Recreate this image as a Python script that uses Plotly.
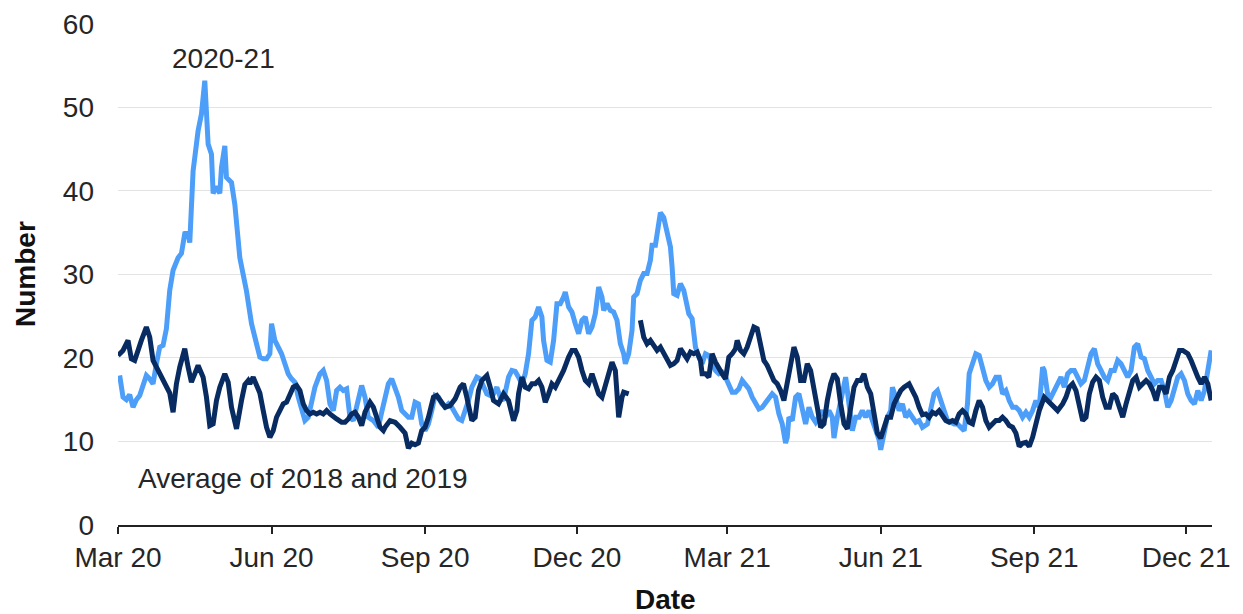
import pandas as pd
import plotly.graph_objects as go

START = pd.Timestamp("2020-03-01")

# 2020-21 series: day offsets from 1 Mar 2020 and daily counts
blue_days = [
    1, 3, 5, 7, 9, 11, 13, 15, 17, 19, 21, 23, 25, 27, 29,
    31, 33, 36, 38, 40, 42, 43, 45, 48, 50, 52,
    53, 54, 56, 57, 59, 61, 62, 64, 65, 68, 70, 71,
    73, 75, 77, 80, 83, 85, 87, 89, 91, 92, 94, 96, 98, 100,
    102, 104, 106, 108, 110, 112, 114, 116, 118, 121, 123, 125, 127, 129, 131, 133, 135, 137, 139, 141,
    144, 146, 148, 150, 153, 156, 158, 160,
    162, 164, 166, 168, 170, 172, 174, 176, 178, 180, 182, 184, 186, 188, 190, 192, 194, 196, 198, 200, 202, 204, 206, 208, 210,
    212, 215, 217, 219, 221, 223, 225, 227, 229, 231, 234, 236, 238, 240,
    242, 244, 246, 248, 250, 252, 254, 255, 257, 259, 261, 263, 265, 267, 268, 270, 272, 274, 276, 278, 280,
    282, 284, 286, 288, 290, 291, 293, 295, 297, 299, 301, 303, 304, 306,
    308, 309, 311, 313, 315, 317, 319, 320, 322, 324, 325, 327, 329, 331,
    332, 333, 335, 337, 339, 340, 342, 344, 345, 346, 348, 350, 352, 354, 356, 358, 360, 362, 364,
    366, 368, 370, 372, 374, 376, 378, 380, 382, 384, 386, 388, 390, 392, 394, 396, 398, 400, 401, 402,
    404, 406, 408, 410, 412, 414, 416, 418, 420, 422, 424, 426, 428, 429, 431, 433, 435, 436, 438, 440,
    442, 444, 446, 448, 450, 452, 454, 456,
    457, 459, 461, 463, 464, 466, 468, 470, 472, 474, 476, 478, 480, 482,
    485, 487, 489, 491, 493, 495, 497, 499, 501, 503, 505, 507, 509, 510, 512, 514, 516, 518, 520,
    522, 524, 526, 528, 530, 532, 534, 536, 538, 540, 542, 544, 546, 548, 550, 552, 554, 555,
    557, 559, 561, 563, 565, 567, 569, 571, 573, 575, 577, 579, 581, 583, 585, 587, 589, 591, 593, 595,
    597, 599, 601, 603, 605, 607, 609, 611, 613, 615, 617, 619, 621, 623, 625, 627, 629, 631, 633, 635,
    637, 639, 641, 643, 645, 647, 649, 651, 653, 655,
]
blue_vals = [
    17.9, 15.3, 15.0, 15.6, 14.1, 15.0, 15.5, 16.5, 17.9, 17.5, 16.9, 19.3, 21.3, 21.5, 23.5,
    28.1, 30.5, 32.0, 32.5, 34.9, 35.0, 33.8, 42.4, 47.2, 49.2, 53.2,
    49.0, 45.6, 44.4, 39.7, 40.5, 39.7, 42.8, 45.4, 41.6, 41.0, 38.4, 35.6,
    32.0, 30.0, 28.0, 24.1, 21.7, 20.1, 19.9, 19.9, 20.5, 24.1, 22.1, 21.3, 20.5, 19.3,
    18.1, 17.5, 17.1, 15.3, 13.7, 12.5, 12.9, 14.5, 16.5, 18.1, 18.5, 17.3, 14.5, 13.7, 16.1, 16.5, 16.1, 16.3, 12.9, 12.5,
    15.3, 16.7, 15.3, 12.9, 12.5, 11.7, 13.5, 15.3,
    16.9, 17.5, 16.5, 15.3, 13.7, 13.3, 12.9, 12.9, 14.7, 14.5, 12.1, 11.3, 12.1, 13.7, 15.5, 15.3, 14.5, 14.1, 14.5, 14.1, 13.3, 12.7, 12.5, 13.5, 14.9,
    16.5, 17.7, 17.5, 16.5, 15.7, 15.5, 15.7, 16.5, 15.3, 14.9, 17.7, 18.5, 18.4, 17.7,
    16.9, 18.1, 20.5, 24.5, 24.9, 26.1, 24.9, 22.1, 19.7, 19.5, 22.1, 26.5, 26.5, 27.3, 27.9, 26.1, 25.5, 24.1, 22.9, 24.5, 24.9,
    22.9, 23.7, 25.3, 28.5, 27.3, 25.7, 26.5, 25.7, 25.5, 24.5, 21.7, 20.5, 19.3, 20.5,
    23.3, 27.3, 27.7, 29.3, 30.1, 30.1, 31.7, 33.5, 33.5, 36.4, 37.4, 36.8, 34.9, 33.3,
    30.9, 27.7, 27.5, 28.9, 28.1, 26.9, 25.3, 24.7, 23.3, 21.3, 20.1, 19.3, 20.5, 20.3, 19.3, 18.5, 18.1, 18.3, 17.7,
    16.9, 15.9, 15.9, 16.3, 17.3, 16.9, 16.3, 15.3, 14.5, 13.9, 14.1, 14.7, 15.1, 15.7, 15.3, 13.3, 12.1, 9.8, 10.5, 12.9,
    12.5, 15.3, 15.7, 13.7, 12.1, 14.1, 12.9, 12.3, 12.9, 13.7, 12.9, 13.7, 12.9, 10.4, 12.9, 14.9, 17.3, 17.7, 14.5, 11.3,
    12.9, 12.9, 13.7, 12.9, 13.7, 12.5, 11.7, 10.2,
    9.0, 11.3, 12.9, 13.7, 16.5, 15.3, 13.7, 14.5, 12.9, 13.5, 12.9, 12.3, 12.5, 11.7,
    12.1, 13.7, 15.7, 16.1, 14.9, 13.3, 12.5, 12.3, 12.1, 12.1, 11.7, 11.3, 14.5, 18.1, 19.3, 20.5, 20.3, 18.5, 17.3,
    16.5, 16.9, 17.7, 17.7, 15.7, 16.1, 14.9, 14.1, 14.1, 13.7, 12.9, 13.5, 12.9, 13.7, 14.9, 14.1, 18.9, 18.5,
    15.7, 15.3, 16.1, 17.0, 17.7, 16.5, 18.1, 18.5, 18.5, 17.7, 16.9, 17.3, 18.9, 20.5, 21.1, 19.3, 18.5, 17.7, 17.3, 18.5,
    18.5, 19.7, 19.3, 18.5, 17.7, 18.5, 21.3, 21.7, 20.1, 19.9, 18.5, 17.7, 16.9, 17.3, 17.3, 16.1, 14.1, 14.9, 16.5, 17.7,
    18.1, 17.3, 15.7, 14.9, 14.5, 16.1, 14.9, 16.1, 18.5, 20.9,
]

# Average of 2018 and 2019 (None marks the break around New Year)
avg_days = [
    0, 3, 6, 8, 10, 12, 14, 17, 19, 21,
    25, 28, 31, 33, 35, 37, 40, 42, 44, 46, 48, 51, 53, 55, 57, 59, 61, 64, 66, 68, 71, 74, 76, 78,
    79, 81, 83, 85, 87, 89, 91, 93, 95, 97, 99, 101, 103, 105, 107, 109, 111, 113, 115, 117, 119, 121, 123, 125,
    127, 129, 131, 134, 136, 138, 140, 142, 144, 146, 148, 151, 153, 155, 157, 159,
    160, 163, 166, 169, 172, 174, 176, 178, 180, 182, 184, 186, 189, 191, 193, 196, 199, 202, 205, 207,
    209, 212, 214, 216, 218, 221, 223, 225, 228, 231, 234, 237, 239,
    240, 242, 244, 246, 248, 250, 252, 254, 256, 258, 260, 262, 264, 267, 270, 272, 274, 276, 278, 280,
    282, 284, 286, 288, 290, 292, 294, 296, 298, 300, 302, 303, 306, 309,
    313, 315, 317, 319, 321, 323, 325, 327, 329, 331, 333, 335, 337, 339, 341, 343, 345, 347, 349, 350,
    352, 354, 356, 358, 360, 362, 364, 366, 368, 370, 371, 373, 375, 377, 379, 381, 383, 385, 387, 389,
    391, 393, 395, 397, 399, 401,
    403, 405, 407, 409, 411, 413, 415, 417, 419, 421, 423, 425, 427, 429, 431, 433, 435, 437, 439, 441,
    443, 445, 447, 449, 451, 453, 455, 457, 459, 461, 463, 465, 467, 469, 471, 474, 476, 478, 480, 482,
    484, 486, 488, 490, 492, 494, 496, 498, 500, 502, 504, 506, 508, 510, 512, 514, 516, 518, 520, 522,
    524, 526, 528, 530, 532, 534, 536, 538, 540, 542, 544, 546, 548, 550, 552, 555, 557, 559, 561, 563,
    566, 568, 570, 572, 574, 576, 578, 580, 582, 584, 586, 588, 590, 592, 594, 596, 598, 600, 602, 604,
    606, 608, 610, 612, 614, 616, 618, 620, 622, 624, 626, 628, 630, 632, 634, 636, 638, 641, 643, 645,
    647, 649, 651, 653, 655,
]
avg_vals = [
    20.3, 20.9, 22.1, 19.9, 19.7, 21.1, 22.1, 23.7, 22.5, 19.7,
    18.1, 17.1, 15.8, 13.5, 16.9, 18.9, 21.1, 18.9, 17.1, 18.1, 19.1, 17.7, 15.3, 11.9, 12.1, 14.9, 16.5, 18.1, 17.1, 14.1, 11.5, 14.9, 16.8, 17.3,
    16.9, 17.7, 16.9, 15.8, 13.7, 11.7, 10.5, 11.3, 12.9, 13.7, 14.5, 14.7, 15.7, 16.5, 16.7, 16.1, 14.5, 13.7, 13.3, 13.5, 13.3, 13.5, 13.3, 13.7,
    13.3, 12.9, 12.7, 12.3, 12.3, 12.7, 13.3, 13.5, 12.9, 11.9, 13.5, 14.7, 14.1, 12.9, 11.7, 11.3,
    11.7, 12.5, 12.3, 11.7, 11.0, 9.2, 9.8, 9.6, 9.8, 11.3, 11.7, 12.9, 15.3, 15.5, 14.9, 14.1, 14.3, 15.1, 16.5, 16.9,
    15.3, 12.5, 12.9, 16.1, 17.3, 17.9, 16.5, 14.9, 14.5, 15.7, 14.9, 12.5, 13.7,
    15.7, 17.7, 16.5, 16.3, 16.9, 16.9, 17.3, 16.5, 14.7, 15.7, 16.9, 16.5, 17.3, 18.5, 20.1, 20.9, 20.9, 20.1, 18.5, 17.3,
    16.9, 18.1, 16.9, 15.7, 15.3, 16.9, 18.5, 19.5, 18.5, 12.9, 15.3, 15.9, 15.7, None,
    24.5, 22.5, 21.7, 22.1, 21.5, 20.9, 21.3, 20.5, 19.7, 19.1, 19.3, 19.7, 21.1, 20.5, 19.9, 20.7, 20.5, 20.7, 19.7, 18.1,
    18.1, 17.7, 20.5, 19.5, 18.7, 18.1, 17.5, 20.1, 20.5, 21.1, 22.1, 20.9, 20.5, 21.3, 22.5, 23.7, 23.5, 21.7, 19.7, 19.1,
    18.1, 17.3, 16.9, 16.1, 14.9, 17.0,
    19.3, 21.3, 20.1, 17.3, 17.3, 19.3, 18.5, 16.5, 14.1, 11.7, 12.1, 14.9, 16.9, 18.1, 17.5, 14.5, 12.1, 11.5, 13.7, 16.5,
    17.3, 17.3, 18.1, 16.5, 15.7, 12.9, 11.0, 10.4, 11.7, 12.9, 12.9, 14.5, 15.3, 16.1, 16.5, 16.9, 16.1, 15.3, 14.1, 13.2,
    13.3, 12.9, 13.5, 13.3, 13.7, 13.1, 12.5, 12.3, 12.5, 12.3, 13.3, 13.7, 13.3, 12.3, 12.1, 13.7, 14.9, 14.1, 12.5, 11.7,
    12.1, 12.5, 12.5, 12.9, 12.5, 11.9, 11.7, 11.0, 9.4, 9.8, 9.9, 9.4, 10.5, 12.1, 13.7, 15.3, 14.9, 14.5, 14.1, 13.7,
    14.5, 15.3, 16.5, 16.9, 16.1, 14.1, 12.5, 12.9, 15.7, 17.1, 17.7, 17.3, 15.3, 14.1, 14.1, 15.7, 15.3, 14.1, 12.9, 14.5,
    16.1, 17.3, 17.7, 16.5, 16.9, 17.3, 16.9, 16.1, 14.9, 16.5, 16.5, 15.7, 17.7, 18.5, 19.7, 20.9, 20.9, 20.5, 19.7, 18.5,
    17.7, 16.9, 17.7, 16.9, 14.9,
]

y_ticks = [0, 10, 20, 30, 40, 50, 60]
tick_dates = ["2020-03-01", "2020-06-01", "2020-09-01", "2020-12-01",
              "2021-03-01", "2021-06-01", "2021-09-01", "2021-12-01"]
tick_labels = ["Mar 20", "Jun 20", "Sep 20", "Dec 20",
               "Mar 21", "Jun 21", "Sep 21", "Dec 21"]

blue_x = START + pd.to_timedelta(blue_days, unit="D")
avg_x = START + pd.to_timedelta(avg_days, unit="D")

FONT = "Liberation Sans, Arial, sans-serif"
TXT = "#262626"
FS = 28

fig = go.Figure()
fig.add_trace(go.Scatter(x=blue_x, y=blue_vals, mode="lines", name="2020-21",
                         line=dict(color="#4C9EF9", width=5), connectgaps=False))
fig.add_trace(go.Scatter(x=avg_x, y=avg_vals, mode="lines", name="Average of 2018 and 2019",
                         line=dict(color="#082C62", width=5), connectgaps=False))

fig.update_layout(
    width=1235, height=606,
    margin=dict(l=110, r=31, t=15, b=89, autoexpand=False),
    paper_bgcolor="white", plot_bgcolor="white",
    showlegend=False,
    font=dict(family=FONT, size=FS, color=TXT),
    xaxis=dict(
        type="date", automargin=False,
        range=["2020-03-01", "2021-12-16 12:00"],
        tickvals=tick_dates, ticktext=tick_labels,
        ticks="outside", ticklen=7, tickwidth=1.5, tickcolor="#222",
        showline=True, linecolor="#222", linewidth=1.5,
        showgrid=False, zeroline=False,
        tickfont=dict(size=FS, color=TXT),
        ticklabelstandoff=0,
    ),
    yaxis=dict(
        automargin=False,
        range=[0, 60.1], tickmode="array", tickvals=y_ticks,
        ticktext=[str(v) for v in y_ticks],
        showgrid=True, gridcolor="#E3E3E3", gridwidth=1,
        zeroline=False, showline=False, ticks="",
        tickfont=dict(size=FS, color=TXT),
        ticklabelstandoff=23,
        ticklabeloverflow="allow",
    ),
    annotations=[
        dict(x=START + pd.Timedelta(days=63), y=55.9, xref="x", yref="y",
             text="2020-21", showarrow=False, xanchor="center", yanchor="middle",
             font=dict(size=FS, color=TXT)),
        dict(x=START + pd.Timedelta(days=11), y=5.6, xref="x", yref="y",
             text="Average of 2018 and 2019", showarrow=False, xanchor="left", yanchor="middle",
             font=dict(size=FS, color=TXT)),
        dict(x=-0.085, y=0.5, xref="paper", yref="paper", text="<b>Number</b>",
             textangle=-90, showarrow=False, xanchor="center", yanchor="middle",
             font=dict(size=FS, color="#111")),
        dict(x=0.5, y=-0.149, xref="paper", yref="paper", text="<b>Date</b>",
             showarrow=False, xanchor="center", yanchor="middle",
             font=dict(size=FS, color="#111")),
    ],
)

fig.write_html("out.html")
